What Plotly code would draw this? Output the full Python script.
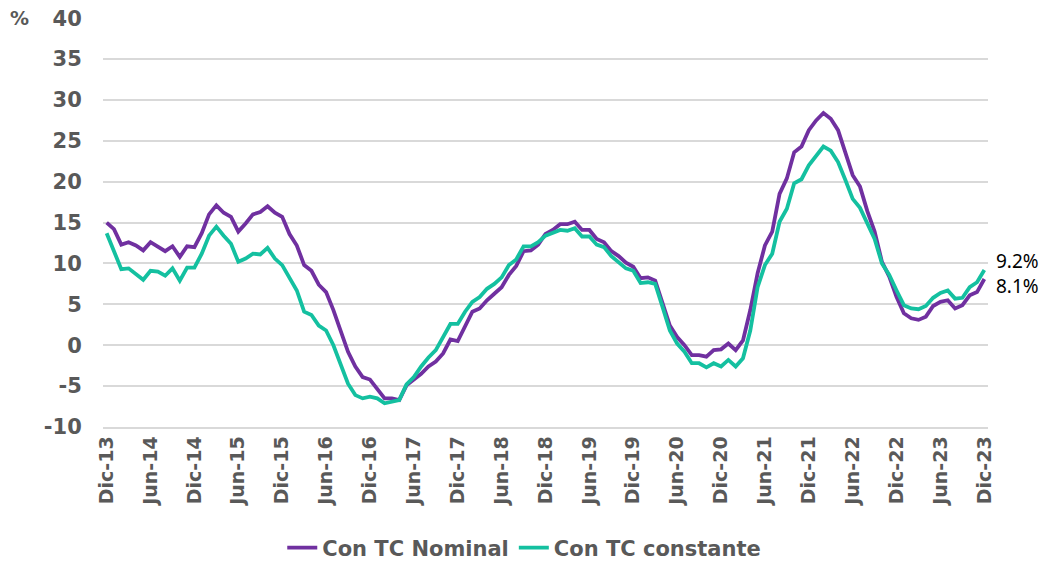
import plotly.graph_objects as go

months = ["Ene", "Feb", "Mar", "Abr", "May", "Jun", "Jul", "Ago", "Sep", "Oct", "Nov", "Dic"]
# monthly periods Dic-13 .. Dic-23
periods = []
y, m = 2013, 11
for _ in range(121):
    periods.append(f"{months[m]}-{str(y)[2:]}")
    m += 1
    if m == 12:
        m = 0
        y += 1

nominal = [
    15.0, 14.2, 12.3, 12.6, 12.2, 11.6, 12.6, 12.1, 11.5, 12.1, 10.8, 12.1, 12.0,
    13.7, 16.0, 17.1, 16.2, 15.7, 13.9, 14.9, 16.0, 16.3, 17.0, 16.2, 15.7,
    13.6, 12.2, 9.8, 9.1, 7.4, 6.5, 4.3, 1.8, -0.8, -2.6, -3.9, -4.2,
    -5.3, -6.5, -6.5, -6.7, -4.9, -4.2, -3.5, -2.6, -2.0, -1.0, 0.7, 0.5,
    2.4, 4.1, 4.5, 5.5, 6.3, 7.1, 8.6, 9.7, 11.5, 11.6, 12.3, 13.6,
    14.1, 14.8, 14.8, 15.1, 14.1, 14.1, 13.0, 12.6, 11.5, 10.9, 10.1, 9.6,
    8.2, 8.3, 7.9, 5.1, 2.4, 1.0, 0.0, -1.2, -1.2, -1.4, -0.6, -0.5,
    0.2, -0.6, 0.6, 4.3, 8.8, 12.2, 13.9, 18.5, 20.4, 23.6, 24.3, 26.3,
    27.5, 28.4, 27.7, 26.3, 23.4, 20.8, 19.4, 16.4, 13.9, 10.2, 8.4, 5.9,
    3.9, 3.3, 3.1, 3.5, 4.8, 5.3, 5.5, 4.5, 4.9, 6.1, 6.5, 8.1,
]
constante = [
    13.7, 11.6, 9.3, 9.4, 8.7, 8.0, 9.1, 9.0, 8.5, 9.4, 7.9, 9.5, 9.5,
    11.2, 13.4, 14.5, 13.4, 12.4, 10.2, 10.6, 11.2, 11.1, 11.9, 10.6, 9.8,
    8.2, 6.7, 4.1, 3.7, 2.4, 1.8, 0.0, -2.2, -4.7, -6.1, -6.5, -6.3,
    -6.5, -7.1, -6.9, -6.7, -4.8, -3.9, -2.6, -1.5, -0.6, 1.0, 2.6, 2.6,
    4.1, 5.3, 5.9, 6.9, 7.5, 8.3, 9.8, 10.5, 12.1, 12.1, 12.6, 13.4,
    13.7, 14.1, 14.0, 14.3, 13.3, 13.3, 12.3, 12.0, 10.9, 10.2, 9.4, 9.1,
    7.6, 7.7, 7.5, 4.7, 1.8, 0.2, -0.8, -2.2, -2.2, -2.7, -2.2, -2.6,
    -1.8, -2.6, -1.6, 1.8, 7.1, 9.8, 11.2, 15.1, 16.7, 19.8, 20.3, 22.0,
    23.2, 24.3, 23.8, 22.4, 20.2, 17.9, 16.8, 14.8, 13.0, 10.0, 8.6, 6.7,
    4.9, 4.5, 4.4, 4.8, 5.8, 6.4, 6.7, 5.7, 5.8, 7.1, 7.7, 9.2,
]
y_ticks = [-10, -5, 0, 5, 10, 15, 20, 25, 30, 35, 40]
y_tick_txt = [str(v) for v in y_ticks]

x_idx = list(range(len(periods)))
tick_idx = x_idx[::6]
tick_txt = [periods[i] for i in tick_idx]

PURPLE = "#7030A0"
TEAL = "#14C0A0"
GRAY = "#595959"
FONT = "DejaVu Sans"

fig = go.Figure()
fig.add_trace(go.Scatter(x=x_idx, y=nominal, mode="lines", name="Con TC Nominal",
                         line=dict(color=PURPLE, width=3.8)))
fig.add_trace(go.Scatter(x=x_idx, y=constante, mode="lines", name="Con TC constante",
                         line=dict(color=TEAL, width=3.8)))

fig.update_layout(
    width=1051, height=565,
    margin=dict(l=95, r=71, t=10, b=146, autoexpand=False),
    plot_bgcolor="white", paper_bgcolor="white",
    font=dict(family=FONT, color=GRAY),
    showlegend=True,
    legend=dict(orientation="h", x=0.476, xanchor="center", y=-0.296, yanchor="middle",
                font=dict(size=21, family=FONT, color=GRAY, weight="bold"),
                traceorder="normal"),
)
fig.update_xaxes(
    range=[-0.5, 120.5], tickmode="array", tickvals=tick_idx, ticktext=tick_txt,
    tickangle=-90, tickfont=dict(size=19, family=FONT, color=GRAY, weight="bold"),
    showgrid=False, zeroline=False, showline=True, linecolor="#d9d9d9", linewidth=1.5,
    ticks="", automargin=False,
)
fig.update_yaxes(
    range=[-10, 40.02], tickmode="array", tickvals=y_ticks, ticktext=y_tick_txt,
    tickfont=dict(size=21, family=FONT, color=GRAY, weight="bold"),
    showgrid=True, gridcolor="#d9d9d9", gridwidth=1.5, zeroline=False,
    ticks="outside", ticklen=16, tickcolor="rgba(0,0,0,0)", automargin=False,
    ticklabeloverflow="allow",
)

fig.add_annotation(xref="paper", yref="paper", x=-0.094, y=1.0, text="%", showarrow=False,
                   font=dict(size=19, family=FONT, color=GRAY, weight="bold"),
                   xanchor="center", yanchor="middle")
fig.add_annotation(x=x_idx[-1], y=constante[-1], text=f"{constante[-1]:.1f}%", showarrow=False,
                   xanchor="left", yanchor="middle", xshift=10, yshift=9,
                   font=dict(size=19, family="Noto Sans", color="black"))
fig.add_annotation(x=x_idx[-1], y=nominal[-1], text=f"{nominal[-1]:.1f}%", showarrow=False,
                   xanchor="left", yanchor="middle", xshift=10, yshift=-7,
                   font=dict(size=19, family="Noto Sans", color="black"))

fig.write_html("out.html")
